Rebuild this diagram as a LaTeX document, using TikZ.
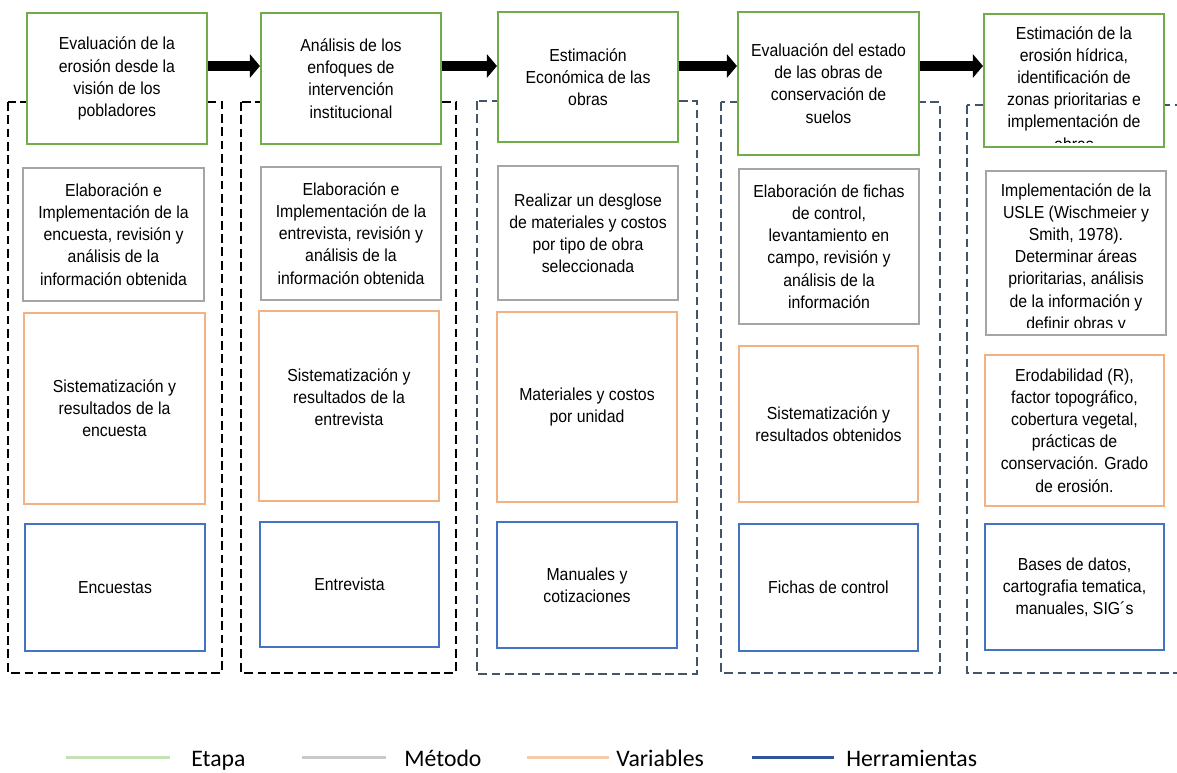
\documentclass[tikz,border=0pt]{standalone}
\usepackage{fontspec}
\setmainfont{Liberation Sans}[FakeStretch=0.91]
\newfontfamily\legfont{Carlito}
\usepackage{xcolor}
\usetikzlibrary{arrows.meta}

\definecolor{verde}{HTML}{70AD47}
\definecolor{gris}{HTML}{A5A5A5}
\definecolor{naranja}{HTML}{F4B183}
\definecolor{azul}{HTML}{4472C4}
\definecolor{pizarra}{HTML}{44546A}
\definecolor{verdeclaro}{HTML}{C5E0B4}
\definecolor{grisclaro}{HTML}{C9C9C9}
\definecolor{naranjaclaro}{HTML}{F8CBAD}
\definecolor{azuloscuro}{HTML}{2F5597}

\begin{document}
\begin{tikzpicture}[x=0.02cm, y=-0.02cm,
    caja/.style={draw, line width=1.2pt, fill=white, align=center, inner sep=0pt,
      font=\fontsize{9.9}{12.6}\selectfont},
    etapabox/.style={caja, draw=verde},
    metodobox/.style={caja, draw=gris},
    varbox/.style={caja, draw=naranja},
    herrbox/.style={caja, draw=azul},
    marco/.style={line width=1pt, dash pattern=on 5pt off 2.6pt},
    flecha/.style={-{Triangle[length=0.2cm,width=0.46cm]}, line width=0.2cm},
    leyenda/.style={line width=1.7pt},
    leyendatxt/.style={anchor=base west, inner sep=0pt, font=\legfont\fontsize{13.5}{16}\selectfont}]
    \clip (0,0) rectangle (1177,772);
    % marcos punteados
    \draw[marco, black] (8,102) rectangle (222,673);
    \draw[marco, black] (241,102) rectangle (456,673);
    \draw[marco, pizarra] (477,101) rectangle (697,674);
    \draw[marco, pizarra] (721,102) rectangle (940,673);
    \draw[marco, pizarra] (967,105) rectangle (1195,673);
    % columna 1
    \node[etapabox, minimum width=3.6cm, minimum height=2.62cm] (g1) at (117,78.5)
      {Evaluación de la\\erosión desde la\\visión de los\\pobladores};
    \node[metodobox, minimum width=3.62cm, minimum height=2.66cm] (m1) at (113.5,234.5)
      {Elaboración e\\Implementación de la\\encuesta, revisión y\\análisis de la\\información obtenida};
    \node[varbox, minimum width=3.62cm, minimum height=3.82cm] (v1) at (114.5,408.5)
      {Sistematización y\\resultados de la\\encuesta};
    \node[herrbox, minimum width=3.6cm, minimum height=2.54cm] (h1) at (115,587.5)
      {Encuestas};
    % columna 2
    \node[etapabox, minimum width=3.6cm, minimum height=2.62cm] (g2) at (351,78.5)
      {Análisis de los\\enfoques de\\intervención\\institucional};
    \node[metodobox, minimum width=3.6cm, minimum height=2.66cm] (m2) at (351,233.5)
      {Elaboración e\\Implementación de la\\entrevista, revisión y\\análisis de la\\información obtenida};
    \node[varbox, minimum width=3.6cm, minimum height=3.8cm] (v2) at (349,406) {};
    \node[caja, draw=none, fill=none] (v2txt) at ([yshift=0.18cm]v2.center)
      {Sistematización y\\resultados de la\\entrevista};
    \node[herrbox, minimum width=3.58cm, minimum height=2.5cm] (h2) at (349.5,584.5)
      {Entrevista};
    % columna 3
    \node[etapabox, minimum width=3.6cm, minimum height=2.6cm] (g3) at (588,77)
      {Estimación\\Económica de las\\obras};
    \node[metodobox, minimum width=3.6cm, minimum height=2.68cm] (m3) at (588,233)
      {Realizar un desglose\\de materiales y costos\\por tipo de obra\\seleccionada};
    \node[varbox, minimum width=3.6cm, minimum height=3.8cm] (v3) at (587,407)
      {Materiales y costos\\por unidad};
    \node[herrbox, minimum width=3.6cm, minimum height=2.52cm] (h3) at (587,585)
      {Manuales y\\cotizaciones};
    % columna 4
    \node[etapabox, minimum width=3.62cm, minimum height=2.86cm] (g4) at (828.5,83.5)
      {Evaluación del estado\\de las obras de\\conservación de\\suelos};
    \node[metodobox, minimum width=3.6cm, minimum height=3.1cm] (m4) at (829,246.5)
      {Elaboración de fichas\\de control,\\levantamiento en\\campo, revisión y\\análisis de la\\información};
    \node[varbox, minimum width=3.58cm, minimum height=3.12cm] (v4) at (828.5,424)
      {Sistematización y\\resultados obtenidos};
    \node[herrbox, minimum width=3.58cm, minimum height=2.54cm] (h4) at (828.5,587.5)
      {Fichas de control};
    % columna 5 (texto cortado por la caja)
    \node[etapabox, minimum width=3.6cm, minimum height=2.66cm] (g5) at (1074,80.5) {};
    \begin{scope}
      \clip (986,16) rectangle (1162,142);
      \node[caja, draw=none, fill=none, anchor=north] (g5txt) at ([yshift=-0.25cm]g5.north)
        {Estimación de la\\erosión hídrica,\\identificación de\\zonas prioritarias e\\implementación de\\obras};
    \end{scope}
    \node[metodobox, minimum width=3.6cm, minimum height=3.28cm] (m5) at (1076,253) {};
    \begin{scope}
      \clip (988,173) rectangle (1164,327);
      \node[caja, draw=none, fill=none, anchor=north] (m5txt) at ([yshift=-0.25cm]m5.north)
        {Implementación de la\\USLE (Wischmeier y\\Smith, 1978).\\Determinar áreas\\prioritarias, análisis\\de la información y\\definir obras y};
    \end{scope}
    \node[varbox, minimum width=3.58cm, minimum height=3.02cm] (v5) at (1074.5,430.5)
      {Erodabilidad (R),\\factor topográfico,\\cobertura vegetal,\\prácticas de\\conservación. Grado\\de erosión.};
    \node[herrbox, minimum width=3.58cm, minimum height=2.52cm] (h5) at (1074.5,587)
      {Bases de datos,\\cartografia tematica,\\manuales, SIG´s};
    % flechas entre etapas
    \coordinate (fl) at (0,66);
    \draw[flecha] (g1.east |- fl) -- (g2.west |- fl);
    \draw[flecha] (g2.east |- fl) -- (g3.west |- fl);
    \draw[flecha] (g3.east |- fl) -- (g4.west |- fl);
    \draw[flecha] (g4.east |- fl) -- (g5.west |- fl);
    % leyenda
    \draw[leyenda, verdeclaro] (66,757) -- (170,757);
    \node[leyendatxt] (ley1) at (191,766) {Etapa};
    \draw[leyenda, grisclaro] (302,757) -- (386,757);
    \node[leyendatxt] (ley2) at (404,766) {Método};
    \draw[leyenda, naranjaclaro] (527,757) -- (609,757);
    \node[leyendatxt] (ley3) at (616,766) {Variables};
    \draw[leyenda, azuloscuro] (752,757) -- (834,757);
    \node[leyendatxt] (ley4) at (846,766) {Herramientas};
\end{tikzpicture}
\end{document}
